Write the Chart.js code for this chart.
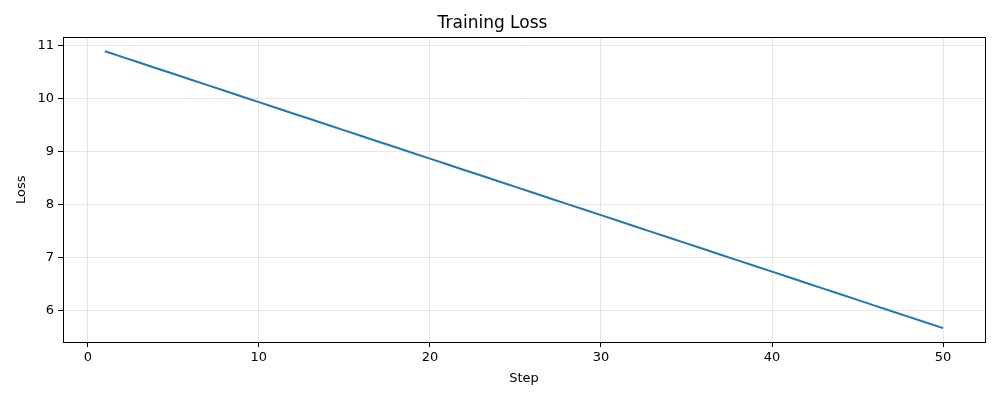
<!DOCTYPE html>
<html>
<head>
<meta charset="utf-8">
<script src="https://cdn.jsdelivr.net/npm/chart.js@4.4.1/dist/chart.umd.min.js"></script>
<style>
  html, body { margin: 0; padding: 0; background: #fff; }
</style>
</head>
<body>
<canvas id="lossChart" width="1000" height="400"></canvas>
<script>
const steps = [1, 2, 3, 4, 5, 6, 7, 8, 9, 10, 11, 12, 13, 14, 15, 16, 17, 18, 19, 20,
  21, 22, 23, 24, 25, 26, 27, 28, 29, 30, 31, 32, 33, 34, 35, 36, 37, 38, 39, 40,
  41, 42, 43, 44, 45, 46, 47, 48, 49, 50];
const lossValues = [10.890, 10.783, 10.677, 10.570, 10.464, 10.357, 10.250, 10.144, 10.037, 9.931,
  9.824, 9.717, 9.611, 9.504, 9.398, 9.291, 9.184, 9.078, 8.971, 8.865,
  8.758, 8.651, 8.545, 8.438, 8.332, 8.225, 8.118, 8.012, 7.905, 7.799,
  7.692, 7.585, 7.479, 7.372, 7.266, 7.159, 7.052, 6.946, 6.839, 6.733,
  6.626, 6.519, 6.413, 6.306, 6.200, 6.093, 5.986, 5.880, 5.773, 5.667];
const xTicks = [0, 10, 20, 30, 40, 50];
const yTicks = [6, 7, 8, 9, 10, 11];

const FONT = "'DejaVu Sans', sans-serif";
const GRID = "rgba(176,176,176,0.3)";

// matplotlib draws a black frame on all four sides
const framePlugin = {
  id: "frame",
  afterDraw(chart) {
    const { ctx, chartArea: a } = chart;
    ctx.save();
    ctx.strokeStyle = "#000";
    ctx.lineWidth = 1;
    ctx.strokeRect(Math.round(a.left) + 0.5, Math.round(a.top) + 0.5,
      Math.round(a.right - a.left), Math.round(a.bottom - a.top));
    ctx.restore();
  }
};

const ctx = document.getElementById("lossChart").getContext("2d");
new Chart(ctx, {
  type: "line",
  data: {
    datasets: [{
      data: steps.map((s, i) => ({ x: s, y: lossValues[i] })),
      borderColor: "#1f77b4",
      borderWidth: 2,
      pointRadius: 0,
      fill: false,
      tension: 0
    }]
  },
  options: {
    responsive: false,
    devicePixelRatio: 1,
    animation: false,
    layout: { padding: { left: 0, right: 15, top: 0, bottom: 0 } },
    plugins: {
      legend: { display: false },
      tooltip: { enabled: false },
      title: {
        display: true,
        text: "Training Loss",
        color: "#000",
        font: { family: FONT, size: 17, weight: "normal" },
        padding: { top: 13, bottom: 4 }
      }
    },
    scales: {
      x: {
        type: "linear",
        min: -1.45,
        max: 52.45,
        afterBuildTicks: s => { s.ticks = xTicks.map(v => ({ value: v })); },
        afterFit: s => { s.height = 58; },
        ticks: { color: "#000", font: { family: FONT, size: 13 }, padding: 3, maxRotation: 0 },
        grid: { color: GRID, tickColor: "#000", tickLength: 5, drawOnChartArea: true },
        border: { color: "#000" },
        title: {
          display: true, text: "Step", color: "#000",
          font: { family: FONT, size: 13 }, padding: { top: 4, bottom: 14 }
        }
      },
      y: {
        type: "linear",
        min: 5.406,
        max: 11.151,
        afterBuildTicks: s => { s.ticks = yTicks.map(v => ({ value: v })); },
        afterFit: s => { s.width = 63; },
        ticks: { color: "#000", font: { family: FONT, size: 13 }, padding: 4 },
        grid: { color: GRID, tickColor: "#000", tickLength: 5 },
        border: { color: "#000" },
        title: {
          display: true, text: "Loss", color: "#000",
          font: { family: FONT, size: 13 }, padding: { top: 14, bottom: 14 }
        }
      }
    }
  },
  plugins: [framePlugin]
});
</script>
</body>
</html>
